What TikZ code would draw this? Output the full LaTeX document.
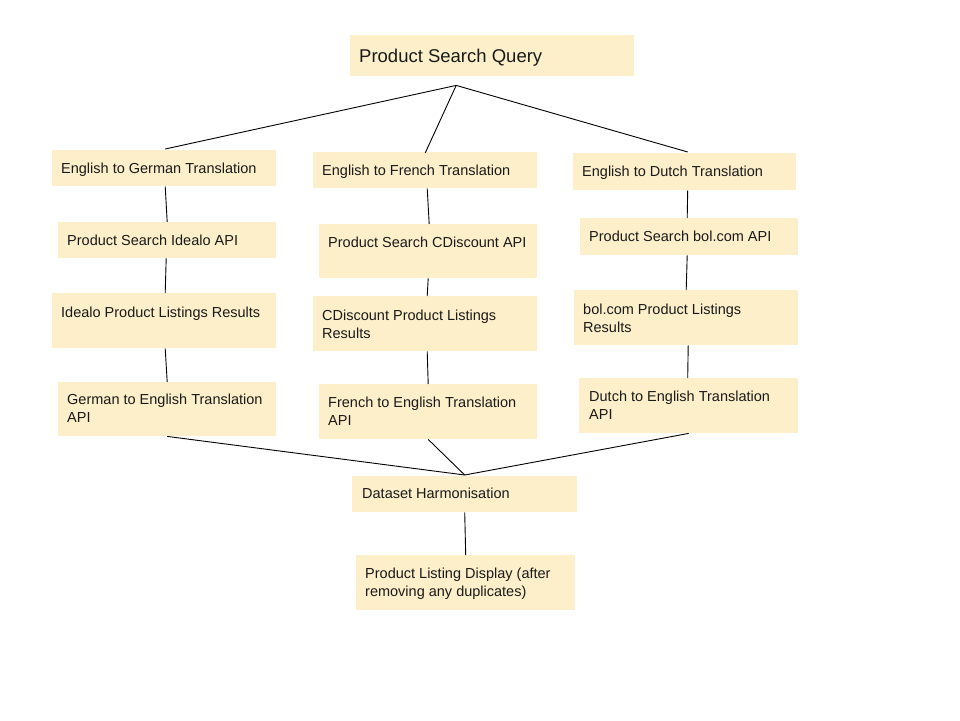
\documentclass[tikz,border=0pt]{standalone}
\usepackage{fontspec}
\setmainfont{Liberation Sans}
\definecolor{boxfill}{HTML}{FDEFC9}
\definecolor{txtcol}{HTML}{1A1A1A}
\begin{document}
\begin{tikzpicture}[x=1pt,y=-1pt,
  box/.style={fill=boxfill,draw=none,inner sep=0pt,anchor=north west},
  txt/.style={inner sep=0pt,anchor=base west,align=left,text=txtcol,font=\fontsize{14.5}{18}\selectfont},
  bigtxt/.style={inner sep=0pt,anchor=base west,text=txtcol,font=\fontsize{18.5}{22}\selectfont},
  conn/.style={draw=black,line width=0.9pt}]
\useasboundingbox[fill=white] (0,0) rectangle (960,720);
% boxes
\node[box,minimum width=284pt,minimum height=41pt] (q) at (350,35) {};
\node[box,minimum width=224pt,minimum height=36pt] (ende) at (52,150) {};
\node[box,minimum width=224pt,minimum height=36pt] (enfr) at (313,152) {};
\node[box,minimum width=223pt,minimum height=37pt] (ennl) at (573,153) {};
\node[box,minimum width=218pt,minimum height=36pt] (idapi) at (58,222) {};
\node[box,minimum width=218pt,minimum height=54pt] (cdapi) at (319,224) {};
\node[box,minimum width=218pt,minimum height=37pt] (bolapi) at (580,218) {};
\node[box,minimum width=224pt,minimum height=55pt] (idres) at (52,293) {};
\node[box,minimum width=224pt,minimum height=55pt] (cdres) at (313,296) {};
\node[box,minimum width=224pt,minimum height=55pt] (bolres) at (574,290) {};
\node[box,minimum width=218pt,minimum height=54pt] (g2e) at (58,382) {};
\node[box,minimum width=218pt,minimum height=55pt] (f2e) at (319,384) {};
\node[box,minimum width=219pt,minimum height=55pt] (d2e) at (579,378) {};
\node[box,minimum width=225pt,minimum height=36pt] (dh) at (352,476) {};
\node[box,minimum width=219pt,minimum height=55pt] (disp) at (356,555) {};
% texts (for two-line texts the base anchor is the last line's baseline)
\node[bigtxt] (qt) at (359,62) {Product Search Query};
\node[txt] (endet) at (61,173) {English to German Translation};
\node[txt] (enfrt) at (322,175) {English to French Translation};
\node[txt] (ennlt) at (582,176) {English to Dutch Translation};
\node[txt] (idapit) at (67,245) {Product Search Idealo API};
\node[txt] (cdapit) at (328,247) {Product Search CDiscount API};
\node[txt] (bolapit) at (589,241) {Product Search bol.com API};
\node[txt] (idrest) at (61,317) {Idealo Product Listings Results};
\node[txt] (cdrest) at (322,338) {CDiscount Product Listings\\Results};
\node[txt] (bolrest) at (583,332) {bol.com Product Listings\\Results};
\node[txt] (g2et) at (67,422) {German to English Translation\\API};
\node[txt] (f2et) at (328,425) {French to English Translation\\API};
\node[txt] (d2et) at (589,419) {Dutch to English Translation\\API};
\node[txt] (dht) at (362,498) {Dataset Harmonisation};
\node[txt] (dispt) at (365,596) {Product Listing Display (after\\removing any duplicates)};
% connectors
\coordinate (qa) at ([xshift=-36pt,yshift=-9pt]q.south);
\draw[conn] (qa) -- ([xshift=1pt,yshift=1pt]ende.north);
\draw[conn] (qa) -- ([yshift=-1pt]enfr.north);
\draw[conn] (qa) -- ([xshift=3pt,yshift=1pt]ennl.north);
\draw[conn] ([xshift=1pt]ende.south) -- (idapi.north);
\draw[conn] ([xshift=-1pt]idapi.south) -- ([xshift=1pt]idres.north);
\draw[conn] ([xshift=1pt]idres.south) -- (g2e.north);
\draw[conn] ([xshift=2pt]enfr.south) -- ([xshift=1pt]cdapi.north);
\draw[conn] (cdapi.south) -- ([xshift=2pt]cdres.north);
\draw[conn] ([xshift=2pt]cdres.south) -- (f2e.north);
\draw[conn] ([xshift=3pt]ennl.south) -- ([xshift=-2pt]bolapi.north);
\draw[conn] ([xshift=-2pt]bolapi.south) -- (bolres.north);
\draw[conn] ([xshift=2pt]bolres.south) -- ([xshift=-1pt]d2e.north);
\coordinate (ha) at ([yshift=1pt]dh.north);
\draw[conn] (g2e.south) -- (ha);
\draw[conn] (f2e.south) -- (ha);
\draw[conn] (d2e.south) -- (ha);
\draw[conn] (dh.south) -- (disp.north);
\end{tikzpicture}
\end{document}
